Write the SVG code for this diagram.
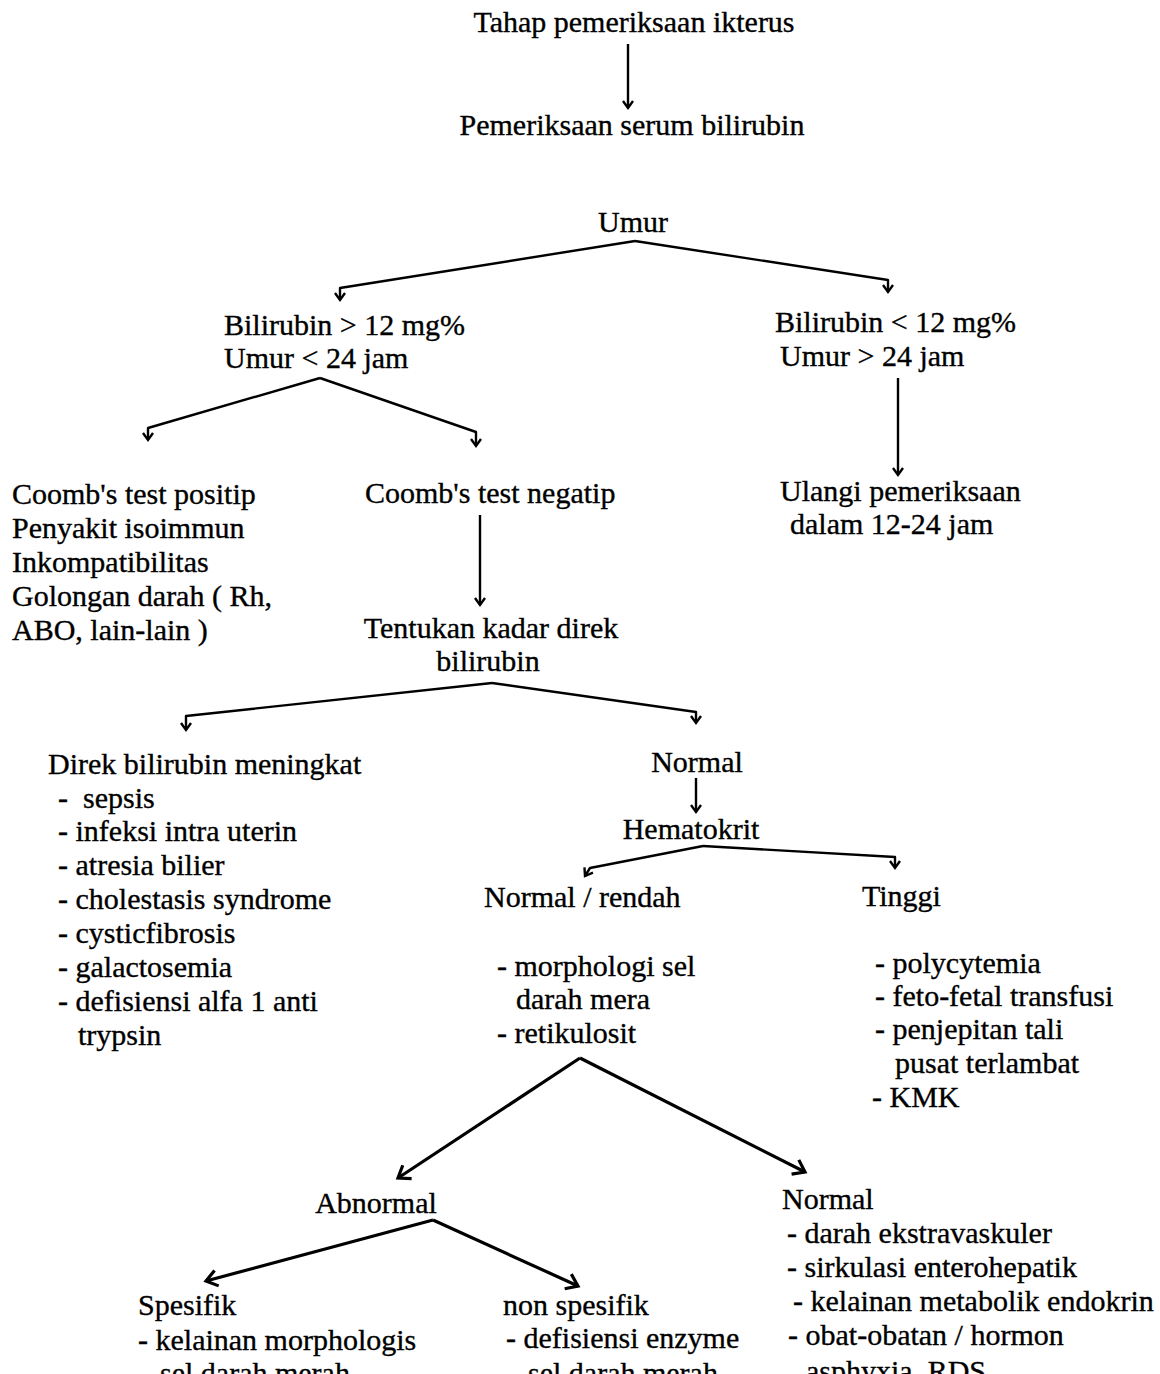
<svg xmlns="http://www.w3.org/2000/svg" width="1160" height="1374" viewBox="0 0 1160 1374">
<defs>
<style>
text{font-family:"Liberation Serif","Times New Roman",serif;font-size:30px;fill:#000;stroke:#000;stroke-width:0.35}
.m{text-anchor:middle}
.c{fill:none;stroke:#000;stroke-width:2.4;stroke-linejoin:round}
.b{fill:none;stroke:#000;stroke-width:3.2}
</style>
<marker id="a" markerUnits="userSpaceOnUse" markerWidth="20" markerHeight="20" viewBox="-10 -10 20 20" refX="0" refY="0" orient="auto">
<path d="M-7,-5 L0,0 L-7,5" fill="none" stroke="#000" stroke-width="2.4"/>
</marker>
<marker id="A" markerUnits="userSpaceOnUse" markerWidth="30" markerHeight="30" viewBox="-15 -15 30 30" refX="0" refY="0" orient="auto">
<path d="M-11,-8 L0,0 L-11,8" fill="none" stroke="#000" stroke-width="3.2"/>
</marker>
</defs>
<rect width="1160" height="1374" fill="#fff"/>

<g id="connectors">
<path class="c" d="M628,44 L628,108" marker-end="url(#a)"/>
<path class="c" d="M635,241 L340,288 L340,300" marker-end="url(#a)"/>
<path class="c" d="M635,241 L888,280 L888,292" marker-end="url(#a)"/>
<path class="c" d="M320,378 L148,428 L148,440" marker-end="url(#a)"/>
<path class="c" d="M320,378 L476,432 L476,446" marker-end="url(#a)"/>
<path class="c" d="M898,378 L898,475" marker-end="url(#a)"/>
<path class="c" d="M480,515 L480,605" marker-end="url(#a)"/>
<path class="c" d="M492,683 L186,716 L186,730" marker-end="url(#a)"/>
<path class="c" d="M492,683 L696,712 L696,723" marker-end="url(#a)"/>
<path class="c" d="M696,778 L696,812" marker-end="url(#a)"/>
<path class="c" d="M703,846 L590,868 L585,876" marker-end="url(#a)"/>
<path class="c" d="M703,846 L895,857 L895,868" marker-end="url(#a)"/>
<path class="b" d="M580,1058 L398,1178" marker-end="url(#A)"/>
<path class="b" d="M580,1058 L805,1172" marker-end="url(#A)"/>
<path class="b" d="M433,1220 L206,1281" marker-end="url(#A)"/>
<path class="b" d="M433,1220 L578,1286" marker-end="url(#A)"/>
</g>

<g id="n-tahap"><text class="m" x="634" y="32">Tahap pemeriksaan ikterus</text></g>
<g id="n-serum"><text class="m" x="632" y="135">Pemeriksaan serum bilirubin</text></g>
<g id="n-umur"><text class="m" x="633" y="232">Umur</text></g>
<g id="n-bil-high">
<text x="224" y="335">Bilirubin &gt; 12 mg%</text>
<text x="224" y="368">Umur &lt; 24 jam</text>
</g>
<g id="n-bil-low">
<text x="775" y="332">Bilirubin &lt; 12 mg%</text>
<text x="780" y="366">Umur &gt; 24 jam</text>
</g>
<g id="n-coomb-pos">
<text x="12" y="504">Coomb's test positip</text>
<text x="12" y="538">Penyakit isoimmun</text>
<text x="12" y="572">Inkompatibilitas</text>
<text x="12" y="606">Golongan darah ( Rh,</text>
<text x="12" y="640">ABO, lain-lain )</text>
</g>
<g id="n-coomb-neg"><text x="365" y="503">Coomb's test negatip</text></g>
<g id="n-ulangi">
<text x="780" y="501">Ulangi pemeriksaan</text>
<text x="790" y="534">dalam 12-24 jam</text>
</g>
<g id="n-tentukan">
<text class="m" x="491" y="638">Tentukan kadar direk</text>
<text class="m" x="488" y="671">bilirubin</text>
</g>
<g id="n-direk">
<text x="48" y="774">Direk bilirubin meningkat</text>
<text x="58" y="808" xml:space="preserve">-  sepsis</text>
<text x="58" y="841">- infeksi intra uterin</text>
<text x="58" y="875">- atresia bilier</text>
<text x="58" y="909">- cholestasis syndrome</text>
<text x="58" y="943">- cysticfibrosis</text>
<text x="58" y="977">- galactosemia</text>
<text x="58" y="1011">- defisiensi alfa 1 anti</text>
<text x="78" y="1045">trypsin</text>
</g>
<g id="n-normal1"><text class="m" x="697" y="772">Normal</text></g>
<g id="n-hematokrit"><text class="m" x="691" y="839">Hematokrit</text></g>
<g id="n-normal-rendah">
<text x="484" y="907">Normal / rendah</text>
<text x="497" y="976">- morphologi sel</text>
<text x="516" y="1009">darah mera</text>
<text x="497" y="1043">- retikulosit</text>
</g>
<g id="n-tinggi">
<text x="862" y="906">Tinggi</text>
<text x="875" y="973">- polycytemia</text>
<text x="875" y="1006">- feto-fetal transfusi</text>
<text x="875" y="1039">- penjepitan tali</text>
<text x="895" y="1073">pusat terlambat</text>
<text x="872" y="1107">- KMK</text>
</g>
<g id="n-abnormal"><text class="m" x="376" y="1213">Abnormal</text></g>
<g id="n-normal2">
<text x="782" y="1209">Normal</text>
<text x="787" y="1243">- darah ekstravaskuler</text>
<text x="787" y="1277">- sirkulasi enterohepatik</text>
<text x="793" y="1311">- kelainan metabolik endokrin</text>
<text x="788" y="1345">- obat-obatan / hormon</text>
<text x="806" y="1381">asphyxia, RDS</text>
</g>
<g id="n-spesifik">
<text x="138" y="1315">Spesifik</text>
<text x="138" y="1350">- kelainan morphologis</text>
<text x="160" y="1383">sel darah merah</text>
</g>
<g id="n-nonspesifik">
<text x="503" y="1315">non spesifik</text>
<text x="506" y="1348">- defisiensi enzyme</text>
<text x="528" y="1383">sel darah merah</text>
</g>
</svg>
